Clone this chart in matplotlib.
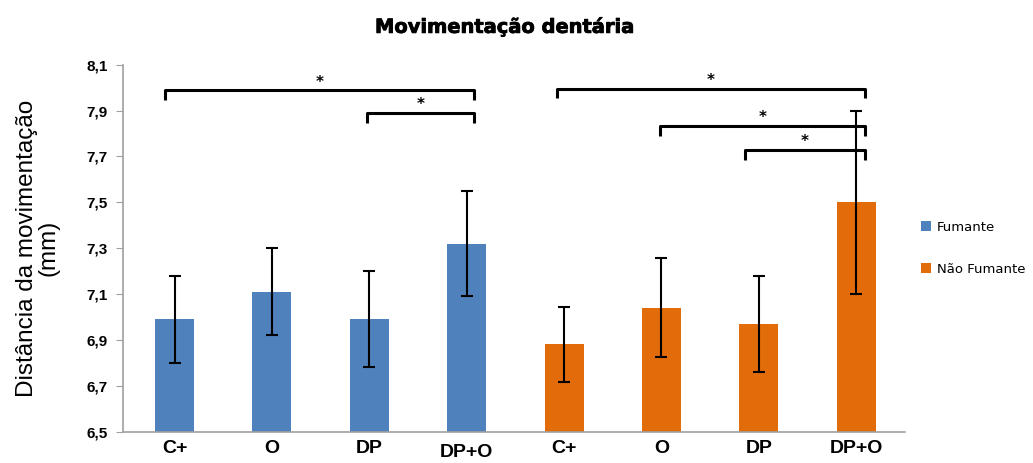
import matplotlib
matplotlib.use("Agg")
import matplotlib.pyplot as plt
import matplotlib.transforms as mtransforms
import matplotlib.patheffects as pe
import numpy as np

title = "Movimentação dentária"
ylabel = "Distância da movimentação\n(mm)"
categories = ["C+", "O", "DP", "DP+O", "C+", "O", "DP", "DP+O"]
series_names = ["Fumante", "Não Fumante"]
fumante = [6.99, 7.11, 6.99, 7.32]
fumante_err = [0.19, 0.19, 0.21, 0.23]
nao_fumante = [6.88, 7.04, 6.97, 7.50]
nao_fumante_err = [0.165, 0.215, 0.21, 0.40]
yticks = [6.5, 6.7, 6.9, 7.1, 7.3, 7.5, 7.7, 7.9, 8.1]
ytick_labels = ["6,5", "6,7", "6,9", "7,1", "7,3", "7,5", "7,7", "7,9", "8,1"]
# significance brackets: (start x, end x, height, leg height)
brackets = [(-0.10, 3.08, 7.99, 7.947),
            (1.98, 3.08, 7.89, 7.847),
            (3.93, 7.09, 7.995, 7.957),
            (4.98, 7.09, 7.835, 7.79),
            (5.86, 7.09, 7.73, 7.685)]

blue = "#4F81BD"
orange = "#E36C0A"

fig = plt.figure(figsize=(10.33, 4.63), dpi=100)
ax = fig.add_axes([0.119, 0.068, 0.757, 0.792])

x1 = np.arange(len(fumante))
x2 = np.arange(len(nao_fumante)) + len(fumante)
ekw = dict(ecolor="black", elinewidth=1.5, capthick=1.5)
ax.bar(x1, fumante, width=0.4, color=blue, label=series_names[0],
       yerr=fumante_err, capsize=4, error_kw=ekw)
ax.bar(x2, nao_fumante, width=0.4, color=orange, label=series_names[1],
       yerr=nao_fumante_err, capsize=4, error_kw=ekw)

ax.set_ylim(6.5, 8.1)
ax.set_xlim(-0.53, 7.5)
ax.set_yticks(yticks)
ax.set_yticklabels(ytick_labels, fontsize=11, fontweight="bold",
                   family="Liberation Sans")
ax.set_xticks(np.arange(len(categories)))
ax.set_xticklabels(categories, fontsize=14, fontweight="bold",
                   family=["Liberation Sans Narrow", "Liberation Sans"])
ax.tick_params(axis="x", length=0, pad=6)
ax.tick_params(axis="y", length=5, color="#A0A0A0", pad=6)
xl = ax.get_xticklabels()[3]
xl.set_transform(xl.get_transform() +
                 mtransforms.ScaledTranslation(0, -3 / 72, fig.dpi_scale_trans))
for s in ["top", "right"]:
    ax.spines[s].set_visible(False)
for s in ["left", "bottom"]:
    ax.spines[s].set_color("#A0A0A0")
    ax.spines[s].set_linewidth(1.2)
ax.set_ylabel(ylabel, fontsize=17.5, family="Liberation Sans", labelpad=19,
              linespacing=1.0)

for (xa, xb, h, leg) in brackets:
    ax.plot([xa, xa, xb, xb], [leg, h, h, leg], color="black", lw=2.2,
            clip_on=False, solid_capstyle="butt")
    ax.text((xa + xb) / 2, h + 0.035, "*", ha="center", va="center",
            fontsize=11, fontweight="bold", clip_on=False)

fig.text(0.489, 0.942, title, ha="center", va="center", fontsize=14,
         fontweight="bold", family="DejaVu Sans",
         path_effects=[pe.withStroke(linewidth=0.6, foreground="black")])

leg = ax.legend(loc="center left", bbox_to_anchor=(1.005, 0.5), frameon=False,
                fontsize=9.5, handlelength=0.8, handleheight=0.8,
                handletextpad=0.4, labelspacing=2.2)

fig.savefig("out.png", dpi=100)
